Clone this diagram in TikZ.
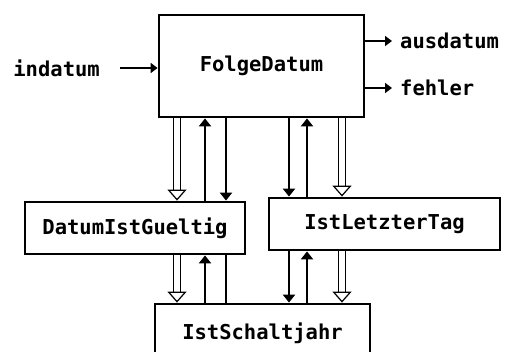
\documentclass[tikz,border=0pt]{standalone}
\usepackage{fontspec}
\setmonofont{DejaVu Sans Mono}
\usetikzlibrary{arrows.meta,positioning}
\tikzset{
  modul/.style={draw,line width=2.8pt,inner sep=0pt,
    font=\ttfamily\bfseries\fontsize{20.5}{20}\selectfont},
  sig/.style={inner sep=0pt,font=\ttfamily\bfseries\fontsize{20.5}{20}\selectfont},
  ctrl/.style={line width=2.8pt,-{Triangle[width=12pt,length=8pt]}},
  plain/.style={line width=2.8pt},
  daten/.style={double,double distance=5.5pt,line width=1.2pt,
    -{Triangle[open,width=19pt,length=11pt,line width=1.2pt]}},
  io/.style={line width=2.2pt,-{Triangle[width=10pt,length=7pt]}},
}

\begin{document}
\begin{tikzpicture}[x=1pt,y=-1pt]
\clip (0,0) rectangle (508,352);
% module
\node[modul,minimum width=205pt,minimum height=102pt] (folge) at (261.5,66) {FolgeDatum};
\node[modul,minimum width=220pt,minimum height=52pt] (gueltig) at (135,228) {DatumIstGueltig};
\node[modul,minimum width=231pt,minimum height=52pt] (letzter) at (384.5,224) {IstLetzterTag};
\node[modul,minimum width=215pt,minimum height=58pt] (schalt) at (262.5,333) {IstSchaltjahr};
% ein-/ausgaben
\node[sig,anchor=east] (indatum) at (100,68) {indatum};
\node[sig,anchor=west] (ausdatum) at (400,41) {ausdatum};
\node[sig,anchor=west] (fehler) at (400,88) {fehler};
\draw[io] ([xshift=20pt]indatum.east) -- (folge.west |- indatum.east);
\draw[io] (folge.east |- ausdatum.west) -- ([xshift=-8pt]ausdatum.west);
\draw[io] (folge.east |- fehler.west) -- ([xshift=-8pt]fehler.west);
% spalten
\coordinate (a1) at (177,0);
\coordinate (a2) at (205,0);
\coordinate (a3) at (226,0);
\coordinate (b1) at (289,0);
\coordinate (b2) at (307,0);
\coordinate (b3) at (342,0);
% FolgeDatum <-> DatumIstGueltig
\draw[daten] (folge.south -| a1) -- (gueltig.north -| a1);
\draw[ctrl] (gueltig.north -| a2) -- (folge.south -| a2);
\draw[ctrl] (folge.south -| a3) -- (gueltig.north -| a3);
% FolgeDatum <-> IstLetzterTag
\draw[ctrl] (folge.south -| b1) -- (letzter.north -| b1);
\draw[ctrl] (letzter.north -| b2) -- (folge.south -| b2);
\draw[daten] (folge.south -| b3) -- (letzter.north -| b3);
% DatumIstGueltig <-> IstSchaltjahr
\draw[daten] (gueltig.south -| a1) -- (schalt.north -| a1);
\draw[ctrl] (schalt.north -| a2) -- (gueltig.south -| a2);
\draw[plain] (gueltig.south -| a3) -- (schalt.north -| a3);
% IstLetzterTag <-> IstSchaltjahr
\draw[ctrl] (letzter.south -| b1) -- (schalt.north -| b1);
\draw[ctrl] (schalt.north -| b2) -- (letzter.south -| b2);
\draw[daten] (letzter.south -| b3) -- (schalt.north -| b3);
\end{tikzpicture}
\end{document}
